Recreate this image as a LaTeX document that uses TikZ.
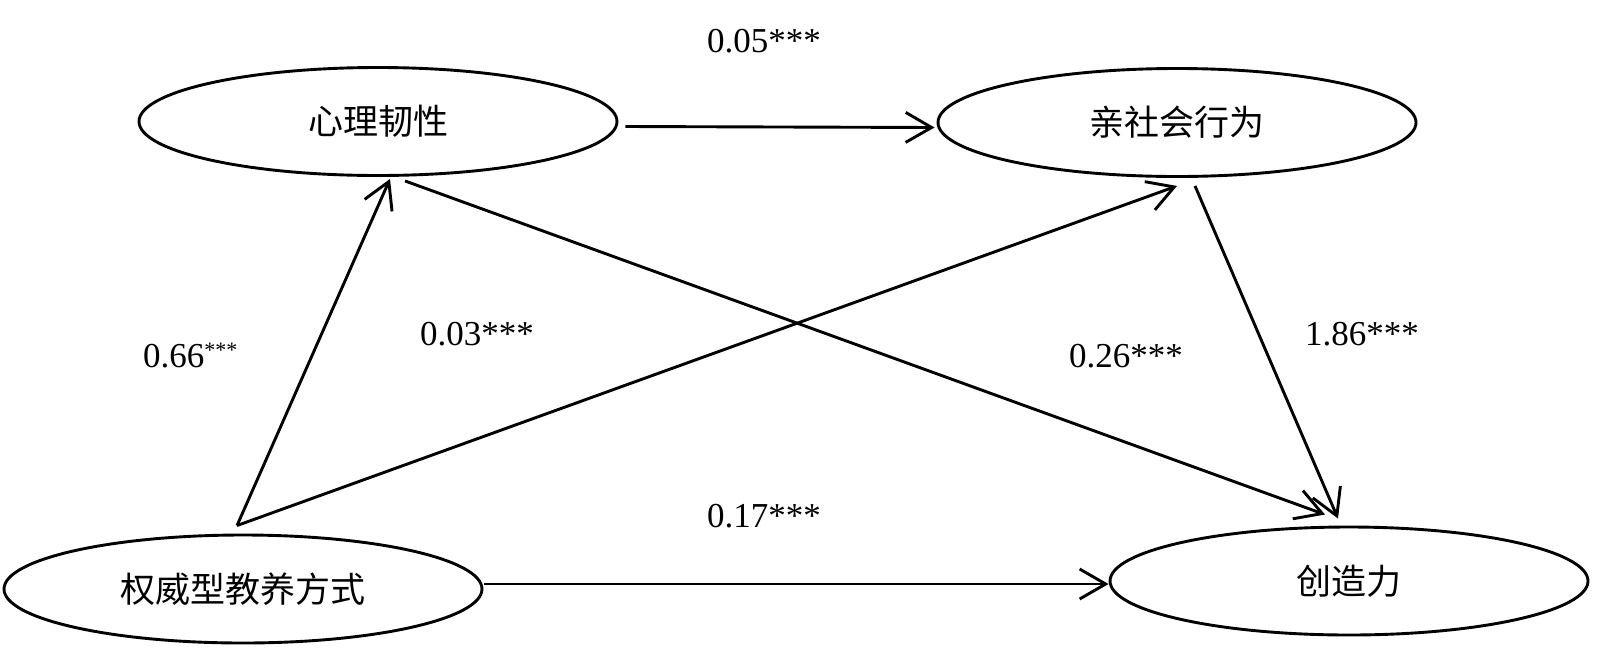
\documentclass[tikz,border=0pt]{standalone}
\usepackage{fontspec}
\setmainfont{Liberation Serif}
\newfontfamily\cjk{Noto Sans CJK SC}
\usetikzlibrary{arrows.meta,shapes.geometric}
\begin{document}
\begin{tikzpicture}[x=1pt,y=-1pt,
  var/.style={draw, ellipse, line width=2.9pt, minimum width=478pt, minimum height=108pt, inner sep=0pt, font=\cjk\fontsize{35}{35}\selectfont},
  conn/.style={line width=2.9pt, -{Straight Barb[length=26pt,width=30pt]}},
  coef/.style={anchor=base west, inner sep=0pt, font=\fontsize{35}{35}\selectfont}]
\useasboundingbox[fill=white] (0,0) rectangle (1600,654);
\node[var] (A) at (378,121.5) {心理韧性};
\node[var] (B) at (1177,122.5) {亲社会行为};
\node[var] (C) at (243,589) {权威型教养方式};
\node[var] (D) at (1349,581) {创造力};
\coordinate (s) at ([xshift=-6pt,yshift=8pt]C.north);
\draw[conn] (s) -- ([xshift=12pt,yshift=-2pt]A.south);
\draw[conn] (s) -- ([yshift=-8pt]B.south);
\draw[conn] ([xshift=7pt,yshift=-5pt]A.east) -- ([xshift=-2pt,yshift=-5pt]B.west);
\draw[conn] ([xshift=27pt,yshift=-4pt]A.south) -- ([xshift=-24pt,yshift=11pt]D.north);
\draw[conn] ([xshift=18pt,yshift=-8pt]B.south) -- ([xshift=-11pt,yshift=7pt]D.north);
\draw[conn] ([xshift=1pt,yshift=5pt]C.east) -- ([yshift=-3pt]D.west);
\node[coef] (l1) at (707,52) {0.05***};
\node[coef] (l2) at (420,345) {0.03***};
\node[coef] (l3) at (143,367) {0.66\raisebox{10pt}{\fontsize{22}{22}\selectfont ***}};
\node[coef] (l4) at (1069,367) {0.26***};
\node[coef] (l5) at (1305,345) {1.86***};
\node[coef] (l6) at (707,527) {0.17***};
\end{tikzpicture}
\end{document}
